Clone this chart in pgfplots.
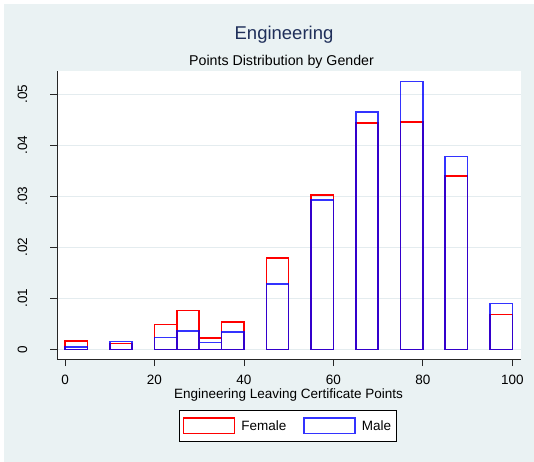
\documentclass[border=0pt]{standalone}
\usepackage{fontspec}
\setmainfont{Liberation Sans}
\usepackage{pgfplots}
\pgfplotsset{compat=1.18}
\definecolor{bgc}{HTML}{EAF2F3}
\definecolor{gridc}{HTML}{E4ECEF}
\definecolor{titc}{HTML}{1F2F5A}
\definecolor{femc}{RGB}{255,0,0}
\definecolor{malc}{RGB}{0,0,255}
\newcommand{\fs}{\fontsize{13.5bp}{16bp}\selectfont}
\pgfplotsset{
  mybar/.style={ybar, bar width=5, bar shift=0pt, fill=none, line width=1.6bp,
    legend image code/.code={\draw[##1, fill=none, line width=1.4bp] (0bp,-7.8bp) rectangle (51bp,7.8bp); \path (55bp,0bp);}}
}
\begin{document}
\begin{tikzpicture}
\useasboundingbox (0,0) rectangle (534bp,462bp);
\fill[white] (0,0) rectangle (534bp,462bp);
\fill[bgc] (4bp,0) rectangle (534bp,458bp);
\begin{axis}[
  at={(57bp,103bp)}, anchor=south west, scale only axis,
  width=464bp, height=288bp,
  xmin=-1.79, xmax=101.94, ymin=-0.0019, ymax=0.05457,
  axis lines*=left,
  axis line style={-, line width=0.8bp, black!85},
  axis background/.style={fill=white},
  tick align=outside, major tick length=7bp,
  tick style={line width=0.8bp, black!85},
  xtick={0,20,40,60,80,100},
  ytick={0,0.01,0.02,0.03,0.04,0.05},
  yticklabels={0,.01,.02,.03,.04,.05},
  scaled y ticks=false,
  ymajorgrids, grid style={gridc, line width=1bp},
  /pgf/number format/assume math mode=true,
  xticklabel style={font=\fs, anchor=base, yshift=-18bp},
  yticklabel style={font=\fs, xshift=-23bp, rotate=90, anchor=base},
  legend columns=2,
  legend style={at={(0.4978,-0.2326)}, anchor=center, draw=black, fill=white,
    font=\fs, line width=0.8bp, inner ysep=7bp, inner xsep=3.5bp},
]
\addplot[mybar, draw=femc] coordinates {
  (2.5,0.00163) (12.5,0.0011) (22.5,0.0049) (27.5,0.0076) (32.5,0.00216) (37.5,0.0054)
  (47.5,0.0179) (57.5,0.0303) (67.5,0.0444) (77.5,0.0446) (87.5,0.0340) (97.5,0.0068)};
\addlegendentry{Female\hspace*{15bp}}
\addplot[mybar, draw=malc, draw opacity=0.8] coordinates {
  (2.5,0.0005) (12.5,0.0015) (22.5,0.00235) (27.5,0.0036) (32.5,0.00137) (37.5,0.00345)
  (47.5,0.0128) (57.5,0.0293) (67.5,0.0465) (77.5,0.0525) (87.5,0.0378) (97.5,0.0090)};
\addlegendentry{Male}
\end{axis}
\node[anchor=base, text=titc, font=\fontsize{18.5bp}{22bp}\selectfont, inner sep=0pt] at (284bp,422.7bp) {Engineering};
\node[anchor=base, font=\fontsize{14.2bp}{17bp}\selectfont, inner sep=0pt] at (281.5bp,396.3bp) {Points Distribution by Gender};
\node[anchor=base, font=\fontsize{13.5bp}{16bp}\selectfont, inner sep=0pt] at (288.5bp,63.3bp) {Engineering Leaving Certificate Points};
\end{tikzpicture}
\end{document}
